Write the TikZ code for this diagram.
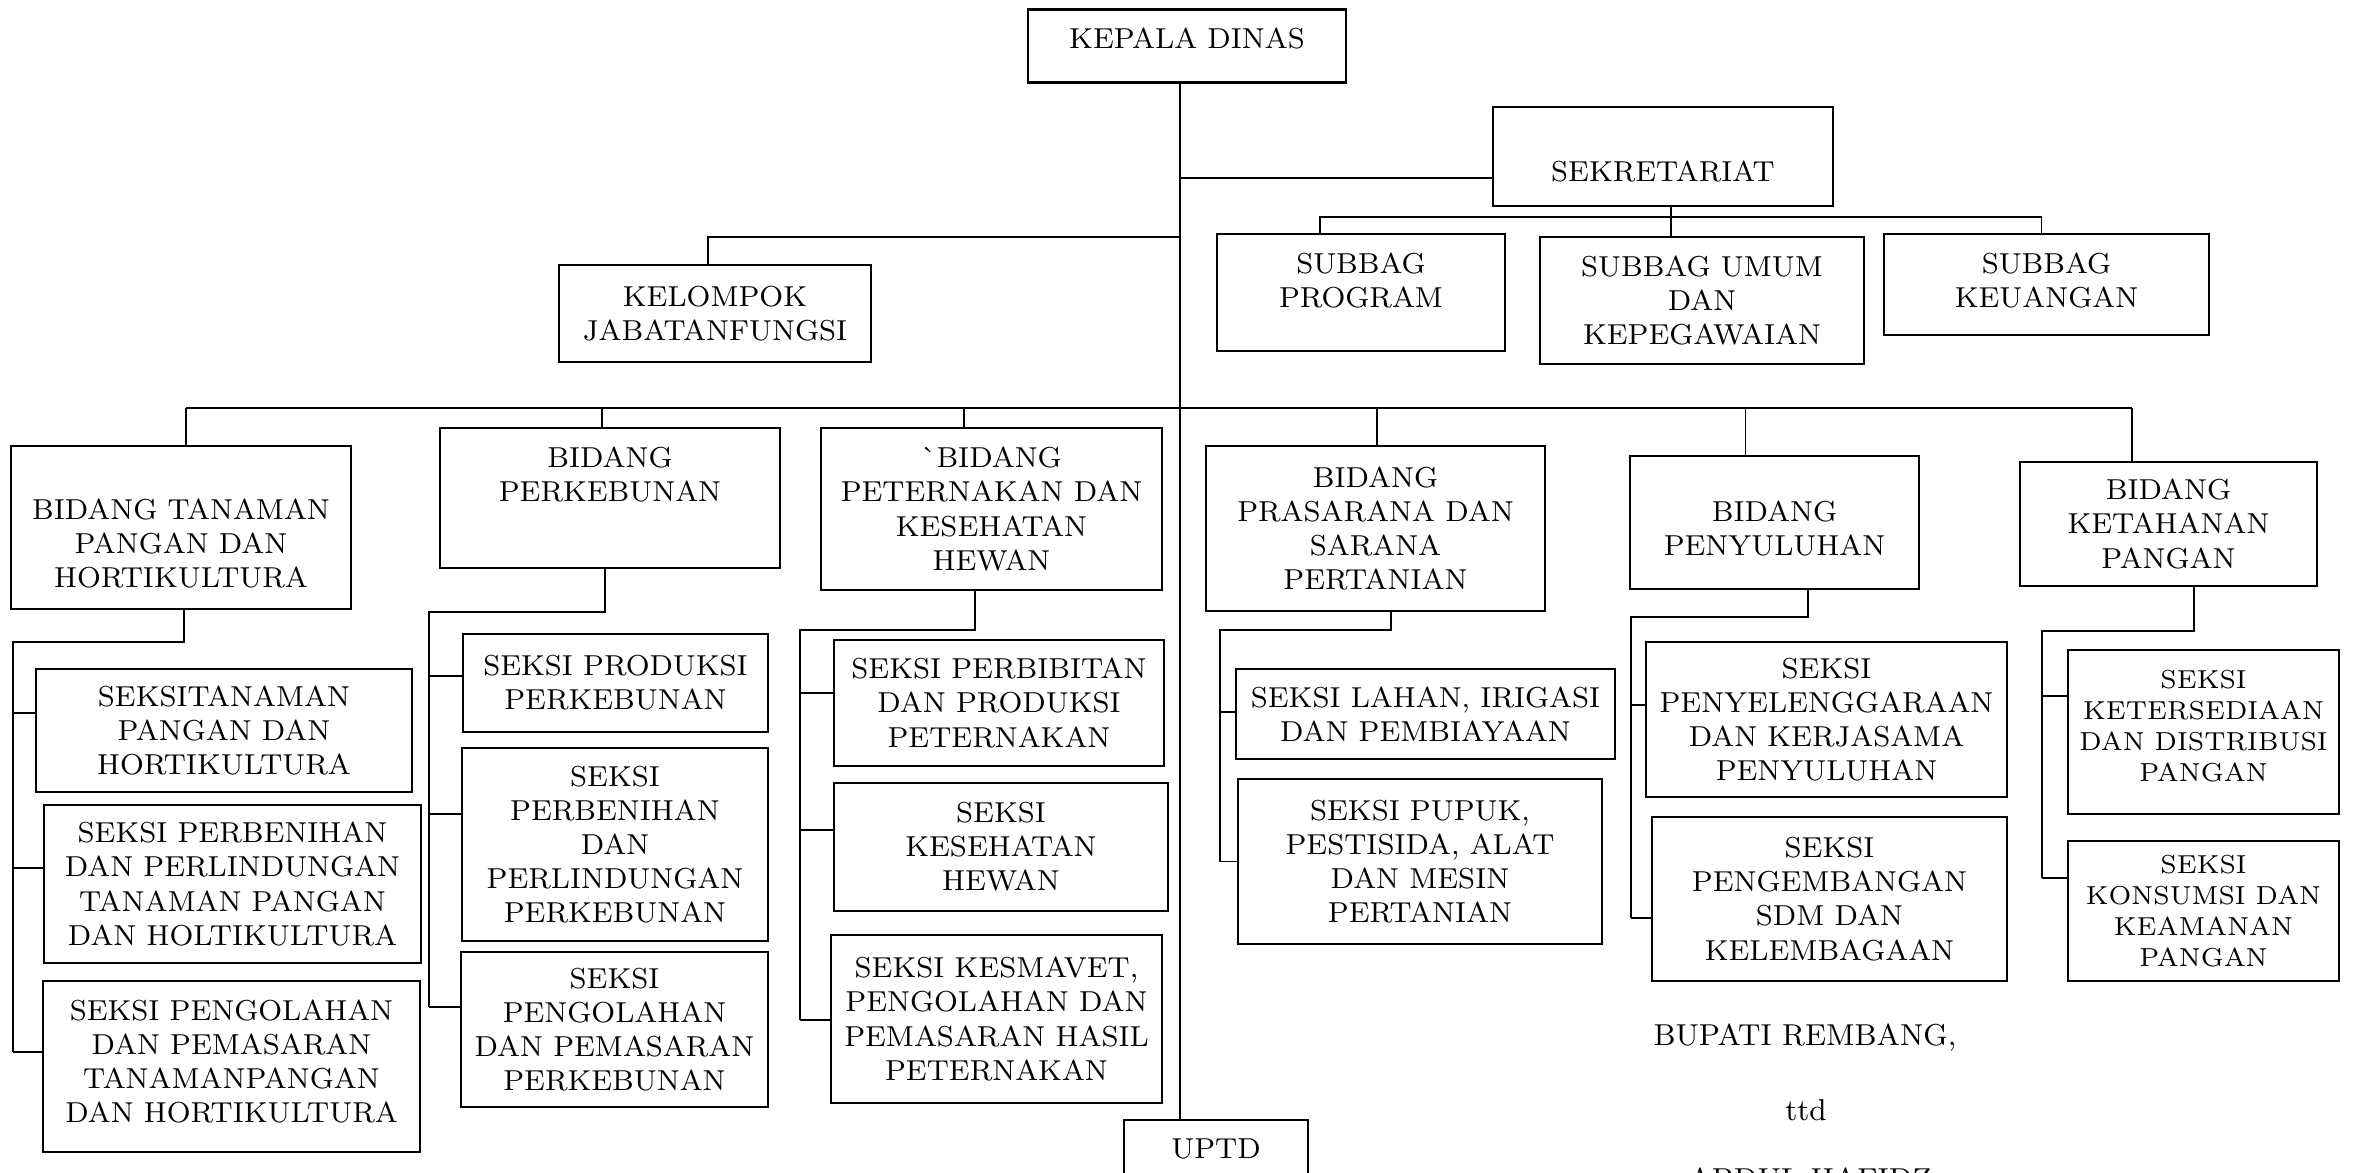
\documentclass[tikz,border=0pt]{standalone}
\usepackage{tikz}

\newcommand{\naik}[1]{\rule[-#1]{0pt}{#1}}
\newcommand{\turun}[1]{\rule{0pt}{#1}}

\begin{document}
\begin{tikzpicture}[x=0.01cm, y=-0.01cm]
        \tikzstyle{kotak}=[draw, line width=0.7pt, align=center, inner sep=0pt, font=\fontsize{8.2}{9.7}\selectfont]
        \tikzstyle{kecil}=[font=\fontsize{7.4}{8.8}\selectfont]
        \tikzstyle{teks}=[font=\fontsize{8.6}{10}\selectfont, anchor=base]
        \tikzstyle{garis}=[line width=0.5pt]

        \useasboundingbox (0,0) rectangle (2353,1173);

        % pimpinan, sekretariat, kelompok jabatan
        \node (kepala)      [kotak, minimum width=3.18cm, minimum height=0.73cm] at (1187,46)    {KEPALA DINAS\naik{0.16cm}};
        \node (sekretariat) [kotak, minimum width=3.40cm, minimum height=0.99cm] at (1663,156.5) {\turun{0.51cm}SEKRETARIAT};
        \node (kelompok)    [kotak, minimum width=3.12cm, minimum height=0.97cm] at (715,313.5)  {KELOMPOK\\JABATANFUNGSI};
        \node (sbprogram)   [kotak, minimum width=2.88cm, minimum height=1.17cm] at (1361,292.5) {SUBBAG\\PROGRAM\naik{0.25cm}};
        \node (sbumum)      [kotak, minimum width=3.24cm, minimum height=1.27cm] at (1702,300.5) {SUBBAG UMUM\\DAN\\KEPEGAWAIAN};
        \node (sbkeu)       [kotak, minimum width=3.25cm, minimum height=1.01cm] at (2046.5,284.5) {SUBBAG\\KEUANGAN\naik{0.09cm}};

        % bidang
        \node (bdtph)    [kotak, minimum width=3.40cm, minimum height=1.63cm] at (181,527.5)    {\turun{0.53cm}BIDANG TANAMAN\\PANGAN DAN\\HORTIKULTURA};
        \node (bdkebun)  [kotak, minimum width=3.40cm, minimum height=1.40cm] at (610,498)      {BIDANG\\PERKEBUNAN\naik{0.47cm}};
        \node (bdternak) [kotak, minimum width=3.41cm, minimum height=1.62cm] at (991.5,509)    {\textasciigrave BIDANG\\PETERNAKAN DAN\\KESEHATAN\\HEWAN};
        \node (bdpsp)    [kotak, minimum width=3.39cm, minimum height=1.65cm] at (1375.5,528.5) {BIDANG\\PRASARANA DAN\\SARANA\\PERTANIAN};
        \node (bdsuluh)  [kotak, minimum width=2.89cm, minimum height=1.33cm] at (1774.5,522.5) {\turun{0.32cm}BIDANG\\PENYULUHAN};
        \node (bdtahan)  [kotak, minimum width=2.97cm, minimum height=1.24cm] at (2168.5,524)   {BIDANG\\KETAHANAN\\PANGAN};

        % seksi
        \node (s11) [kotak, minimum width=3.76cm, minimum height=1.23cm] at (224,730.5)   {SEKSITANAMAN\\PANGAN DAN\\HORTIKULTURA};
        \node (s12) [kotak, minimum width=3.77cm, minimum height=1.58cm] at (232.5,884)   {SEKSI PERBENIHAN\\DAN PERLINDUNGAN\\TANAMAN PANGAN\\DAN HOLTIKULTURA};
        \node (s13) [kotak, minimum width=3.77cm, minimum height=1.71cm] at (231.5,1066.5) {SEKSI PENGOLAHAN\\DAN PEMASARAN\\TANAMANPANGAN\\DAN HORTIKULTURA\naik{0.1cm}};
        \node (s21) [kotak, minimum width=3.05cm, minimum height=0.98cm] at (615.5,683)   {SEKSI PRODUKSI\\PERKEBUNAN};
        \node (s22) [kotak, minimum width=3.06cm, minimum height=1.93cm] at (615,844.5)   {SEKSI\\PERBENIHAN\\DAN\\PERLINDUNGAN\\PERKEBUNAN};
        \node (s23) [kotak, minimum width=3.07cm, minimum height=1.55cm] at (614.5,1029.5) {SEKSI\\PENGOLAHAN\\DAN PEMASARAN\\PERKEBUNAN};
        \node (s31) [kotak, minimum width=3.30cm, minimum height=1.26cm] at (999,703)     {SEKSI PERBIBITAN\\DAN PRODUKSI\\PETERNAKAN};
        \node (s32) [kotak, minimum width=3.34cm, minimum height=1.28cm] at (1001,847)    {SEKSI\\KESEHATAN\\HEWAN};
        \node (s33) [kotak, minimum width=3.31cm, minimum height=1.68cm] at (996.5,1019)  {SEKSI KESMAVET,\\PENGOLAHAN DAN\\PEMASARAN HASIL\\PETERNAKAN};
        \node (s41) [kotak, minimum width=3.79cm, minimum height=0.90cm] at (1425.5,714)  {SEKSI LAHAN, IRIGASI\\DAN PEMBIAYAAN};
        \node (s42) [kotak, minimum width=3.64cm, minimum height=1.65cm] at (1420,861.5)  {SEKSI PUPUK,\\PESTISIDA, ALAT\\DAN MESIN\\PERTANIAN};
        \node (s51) [kotak, minimum width=3.61cm, minimum height=1.55cm] at (1826.5,719.5) {SEKSI\\PENYELENGGARAAN\\DAN KERJASAMA\\PENYULUHAN};
        \node (s52) [kotak, minimum width=3.55cm, minimum height=1.64cm] at (1829.5,899)  {SEKSI\\PENGEMBANGAN\\SDM DAN\\KELEMBAGAAN};
        \node (s61) [kotak, kecil, minimum width=2.71cm, minimum height=1.64cm] at (2203.5,732) {SEKSI\\KETERSEDIAAN\\DAN DISTRIBUSI\\PANGAN\naik{0.12cm}};
        \node (s62) [kotak, kecil, minimum width=2.71cm, minimum height=1.40cm] at (2203.5,911) {SEKSI\\KONSUMSI DAN\\KEAMANAN\\PANGAN};

        \node (uptd) [kotak, minimum width=1.84cm, minimum height=0.80cm] at (1216,1160) {UPTD\naik{0.22cm}};

        % tanda tangan
        \node (bupati) [teks] at (1805,1045) {BUPATI REMBANG,};
        \node (ttd)    [teks] at (1806,1120) {ttd};
        \node (nama)   [teks] at (1810,1189) {ABDUL HAFIDZ};

        % garis komando
        \coordinate (pusat) at ([xshift=-0.07cm]kepala.south);
        \coordinate (jk) at (1180,237);
        \coordinate (bus) at (1180,408);
        \coordinate (subbus) at (1671,217);

        \draw[garis] (pusat) -- (pusat |- uptd.north);
        \draw[garis] ([yshift=-0.215cm]sekretariat.west) -- ([yshift=-0.215cm]sekretariat.west -| pusat);
        \draw[garis] ([xshift=-0.07cm]kelompok.north) |- (jk);
        \draw[garis] ([xshift=0.08cm]sekretariat.south) -- ([xshift=0.08cm]sekretariat.south |- sbumum.north);
        \draw[garis] ([xshift=-0.41cm]sbprogram.north) |- (subbus) -| ([xshift=-0.05cm]sbkeu.north);

        \draw[garis] ([xshift=0.05cm]bdtph.north |- bus) -- ([xshift=-0.365cm]bdtahan.north |- bus);
        \foreach \b/\d in {bdtph/0.05cm, bdkebun/-0.08cm, bdternak/-0.275cm, bdpsp/0.015cm, bdsuluh/-0.29cm, bdtahan/-0.365cm}
            \draw[garis] ([xshift=\d]\b.north) -- ([xshift=\d]\b.north |- bus);

        % cabang seksi
        \coordinate (k1) at (13,642);
        \coordinate (k2) at (429,612);
        \coordinate (k3) at (800,630);
        \coordinate (k4) at (1220,630);
        \coordinate (k5) at (1631,617);
        \coordinate (k6) at (2042,631);

        \draw[garis] ([xshift=0.03cm]bdtph.south) |- (k1) -- ([yshift=0.145cm]s13.west -| k1);
        \draw[garis] ([xshift=-0.05cm]bdkebun.south) |- (k2) -- ([yshift=0.225cm]s23.west -| k2);
        \draw[garis] ([xshift=-0.165cm]bdternak.south) |- (k3) -- ([yshift=-0.01cm]s33.west -| k3);
        \draw[garis] ([xshift=0.155cm]bdpsp.south) |- (k4) -- (s42.west -| k4);
        \draw[garis] ([xshift=0.335cm]bdsuluh.south) |- (k5) -- ([yshift=-0.19cm]s52.west -| k5);
        \draw[garis] ([xshift=0.255cm]bdtahan.south) |- (k6) -- ([yshift=0.33cm]s62.west -| k6);

        \foreach \s/\d/\k in {s11/0.175cm/k1, s12/0.16cm/k1, s13/0.145cm/k1,
                              s21/0.07cm/k2, s22/0.305cm/k2, s23/0.225cm/k2,
                              s31/0.10cm/k3, s32/0.17cm/k3, s33/-0.01cm/k3,
                              s41/0.02cm/k4, s42/0cm/k4,
                              s51/0.145cm/k5, s52/-0.19cm/k5,
                              s61/0.36cm/k6, s62/0.33cm/k6}
            \draw[garis] ([yshift=\d]\s.west) -- ([yshift=\d]\s.west -| \k);

\end{tikzpicture}
\end{document}
